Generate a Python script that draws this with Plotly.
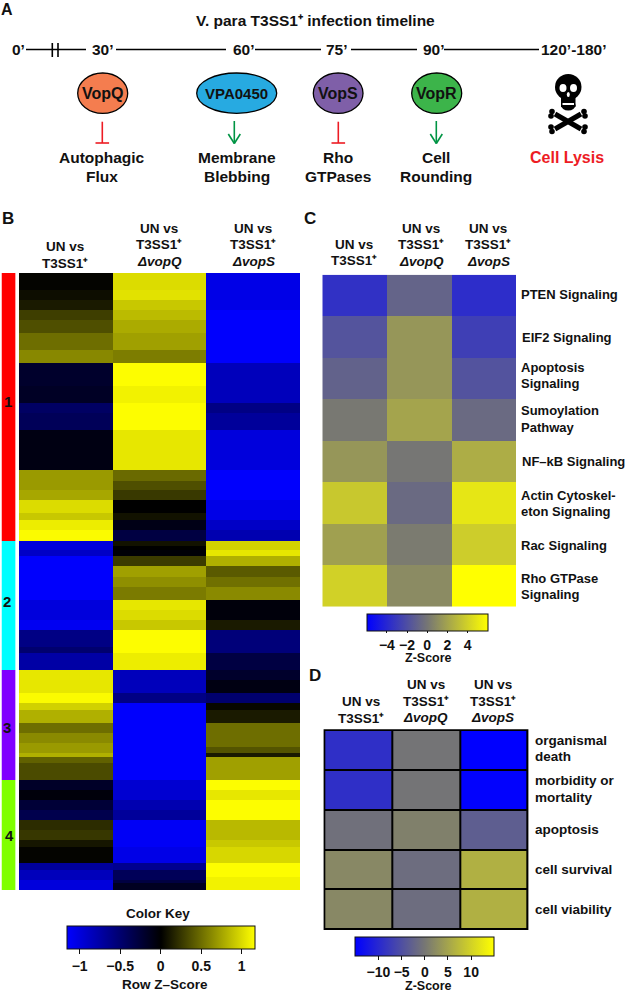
import plotly.graph_objects as go

W, H = 625, 992
FONT = "Liberation Sans"

def X(px): return px / W
def Y(py): return 1 - py / H

# ---------- Panel B data: gene bands (rows per band, row z-score per band) ----------
cluster_names = ["1", "2", "3", "4"]
cluster_rows = [80.5, 38.5, 33, 33]
cluster_colors = ["#ff0000", "#00ffff", "#8000ff", "#80ff00"]

b_col1_rows = [5,3,3,3,4,5,4,7,5,3,5,12,6,3,4,2,3,3.5, 2.5,2,13,6,3,5,2,5, 7,3,2,4,3,3,3,1,2,5, 3,3,3,3,3,3,2,5,2,3,3]
b_col1_vals = [.02,.06,.12,.28,.36,.5,.62,-.2,-.17,-.45,-.4,-.08,.7,.76,1.0,.91,1.08,1.14,
               -1.0,-.9,-1.15,-1.0,-1.1,-.6,-.5,-.75,
               1.05,1.14,.95,.8,.5,.63,.7,.8,.44,.34,
               -.18,-.05,-.25,-.35,.2,.25,.1,.02,-.7,-.85,-1.0]

b_col2_rows = [5,3,3,3,4,5,4,7,5,8,12,3.5,2.5,3,4,2,3,3.5, 1.5,1,2,3,3,3,4,3,3,3,7,5, 7,3,23, 6,3,3,8,5,2,3,1,2]
b_col2_vals = [1.0,1.03,.91,.85,.78,.73,.57,1.15,1.1,1.15,1.05,.48,.36,.26,0,.08,-.1,-.3,
               .08,0,-.03,.27,.73,.65,.56,1.05,1.0,.91,1.15,1.08,
               -.85,-.6,-1.15,
               -.95,-.8,-.7,-1.12,-1.05,-.65,-.4,-.3,-.15]

b_col3_rows = [11,16,12,3,5,12,9,6,3,3.5, 2.5,2,3,3,3,4,6,3,7,5, 3,4,3,2,4,7,2,1,7, 3,3,6,6,2,5,4,4]
b_col3_vals = [-1.05,-1.15,-.85,-.6,-.7,-1.0,-1.15,-1.05,-.9,-.8,
               .95,1.05,.8,.41,.51,.63,-.05,.12,-.55,-.3,
               -.2,-.08,-.5,.03,.12,.5,.38,.12,.73,
               1.15,1.05,1.15,.84,.91,.98,1.15,1.1]

# ---------- Panel C data ----------
c_rows = ["PTEN Signaling", "EIF2 Signaling", "Apoptosis<br>Signaling", "Sumoylation<br>Pathway",
          "NF\u2013kB Signaling", "Actin Cytoskel-<br>eton Signaling", "Rac Signaling", "Rho GTPase<br>Signaling"]
c_un = [-3.5, -1.75, -1.0, 0.1, 1.4, 3.6, 1.85, 4.0]
c_q = [-0.9, 1.4, 1.4, 2.0, 0.0, -0.6, 0.2, 0.9]
c_s = [-3.7, -2.8, -1.8, -0.6, 2.4, 4.9, 3.8, 6.0]

# ---------- Panel D data ----------
d_rows = ["organismal<br>death", "morbidity or<br>mortality", "apoptosis", "cell survival", "cell viability"]
d_un = [-9, -9, -0.8, 2.0, 2.0]
d_q = [-0.2, -0.2, 1.1, -1.2, -1.2]
d_s = [-15, -14.8, -3, 6.3, 6.3]

# ---------- Panel A data ----------
time_labels = ["0\u2019", "30\u2019", "60\u2019", "75\u2019", "90\u2019", "120\u2019-180\u2019"]
effectors = ["VopQ", "VPA0450", "VopS", "VopR"]
effector_colors = ["#f47d4f", "#27aae1", "#7f5fa8", "#3cb44a"]
outcomes = ["Autophagic<br>Flux", "Membrane<br>Blebbing", "Rho<br>GTPases", "Cell<br>Rounding"]

BKY = [[0, "#0000ff"], [0.5, "#000000"], [1, "#ffff00"]]
BGY = [[0, "#0000ff"], [0.5, "#767674"], [1, "#ffff00"]]
TICKFONT = dict(family=FONT, size=14, color="#111111", weight=700)

fig = go.Figure()
axis_n = [0]
layout_axes = {}

def new_axes(x0, x1, y0, y1, xrange, yrange):
    axis_n[0] += 1
    n = axis_n[0]
    s = "" if n == 1 else str(n)
    common = dict(showgrid=False, zeroline=False, showticklabels=False, ticks="", showline=False, fixedrange=True)
    layout_axes["xaxis" + s] = dict(domain=[X(x0), X(x1)], range=xrange, anchor="y" + s, **common)
    layout_axes["yaxis" + s] = dict(domain=[Y(y1), Y(y0)], range=yrange, anchor="x" + s, **common)
    return "x" + s, "y" + s

def edges(counts):
    out, t = [0], 0
    for c in counts:
        t += c
        out.append(t)
    return out

# Panel B heatmap
B_TOTAL = sum(cluster_rows)
B_CELLS = [(19, 113, b_col1_rows, b_col1_vals), (113, 206, b_col2_rows, b_col2_vals), (206, 300, b_col3_rows, b_col3_vals)]
for x0, x1, counts, vals in B_CELLS:
    xa, ya = new_axes(x0, x1, 273, 890, [0, 1], [B_TOTAL, 0])
    fig.add_trace(go.Heatmap(x=[0, 1], y=edges(counts), z=[[v] for v in vals], coloraxis="coloraxis",
                             xaxis=xa, yaxis=ya, hoverinfo="z"))

# Cluster side bar
xa, ya = new_axes(1.5, 15.7, 273, 890, [0, 1], [B_TOTAL, 0])
fig.add_trace(go.Heatmap(x=[0, 1], y=edges(cluster_rows), z=[[i] for i in range(4)], showscale=False, zmin=0, zmax=3,
                         colorscale=[[i / 3, c] for i, c in enumerate(cluster_colors)],
                         text=[[n] for n in cluster_names], hoverinfo="text", xaxis=xa, yaxis=ya))

# Panel C heatmap
xa, ya = new_axes(322.3, 516, 274.7, 606.7, [-0.5, 2.5], [7.5, -0.5])
fig.add_trace(go.Heatmap(z=[list(r) for r in zip(c_un, c_q, c_s)], coloraxis="coloraxis2", xaxis=xa, yaxis=ya))

# Panel D heatmap
xa, ya = new_axes(324.3, 527.7, 730, 929.3, [-0.5, 2.5], [4.5, -0.5])
fig.add_trace(go.Heatmap(z=[list(r) for r in zip(d_un, d_q, d_s)], coloraxis="coloraxis3", xgap=2, ygap=2,
                         xaxis=xa, yaxis=ya))

shapes = []
def seg(x0, y0, x1, y1, color="#000000", w=1.6):
    shapes.append(dict(type="line", xref="paper", yref="paper", x0=X(x0), y0=Y(y0), x1=X(x1), y1=Y(y1),
                       line=dict(color=color, width=w)))
def ell(x0, y0, x1, y1, fill, line="#000000", w=1.3):
    shapes.append(dict(type="circle", xref="paper", yref="paper", x0=X(x0), y0=Y(y0), x1=X(x1), y1=Y(y1),
                       fillcolor=fill, line=dict(color=line, width=w)))
def box(x0, y0, x1, y1, fill, w=0, line=None, layer="above"):
    shapes.append(dict(type="rect", xref="paper", yref="paper", x0=X(x0), y0=Y(y0), x1=X(x1), y1=Y(y1), layer=layer,
                       fillcolor=fill, line=dict(color=line or fill, width=w)))

# black frame behind panel D, visible through the cell gaps
box(323.6, 729.3, 528.4, 930, "#000000", layer="below")

# timeline
for a, b in [(26, 86), (116, 226), (255, 321), (351, 417), (444, 539)]:
    seg(a, 49.5, b, 49.5)
seg(52.3, 43, 52.3, 57)
seg(58, 43, 58, 57)

# effector ovals
OVALS = [(77.7, 127.7), (196.7, 276.7), (313.3, 363), (411.7, 461.7)]
for (a, b), c in zip(OVALS, effector_colors):
    ell(a, 73, b, 113.3, c)

# inhibition marks and arrows
RED, GREEN = "#ed1c24", "#009444"
for xc in (102.3, 338.3):
    seg(xc, 121.7, xc, 143, RED, 1.6)
    seg(xc - 6.8, 143, xc + 6.8, 143, RED, 1.6)
for xc in (234.3, 436.3):
    seg(xc, 121, xc, 143.5, GREEN, 1.6)
    seg(xc - 6, 134, xc, 143.5, GREEN, 1.6)
    seg(xc + 6, 134, xc, 143.5, GREEN, 1.6)

# skull and crossbones
seg(555, 114, 581, 129, "#000000", 5)
seg(581, 114, 555, 129, "#000000", 5)
for bx, by in [(552, 111.5), (551, 116), (584, 111.5), (585, 116), (552, 131.5), (551, 127), (584, 131.5), (585, 127)]:
    ell(bx - 2.8, by - 2.8, bx + 2.8, by + 2.8, "#000000", w=0)
ell(555, 74, 581.5, 100, "#000000", w=0)
box(561, 95, 575.5, 107, "#000000")
ell(561, 100, 575.5, 110.5, "#000000", w=0)
ell(559.5, 84, 566.5, 92, "#ffffff", w=0)
ell(570, 84, 577, 92, "#ffffff", w=0)
ell(566.8, 92, 569.8, 97, "#ffffff", w=0)
box(562.5, 103, 574, 105, "#ffffff")

anns = []
def txt(x, y, s, size=13.5, color="#111111", anchor="center", pitch=16.6, style="normal"):
    lines = s.split("<br>")
    y0 = y - pitch * (len(lines) - 1) / 2
    for i, line in enumerate(lines):
        is_it = line.startswith("\u0394")
        anns.append(dict(x=X(x), y=Y(y0 + i * pitch), xref="paper", yref="paper", text=line, showarrow=False,
                         xanchor=anchor, yanchor="middle", borderpad=0,
                         font=dict(family=FONT, size=size, color=color, weight=700,
                                   style="italic" if is_it else style)))

# panel letters
txt(7, 9.5, "A", 16); txt(8, 219, "B", 17); txt(310, 219, "C", 17); txt(315, 675, "D", 17)

# Panel A text
PA = 15.5
txt(315, 21, "V. para T3SS1\u207a infection timeline", PA)
for xc, s in zip((18.7, 103, 244, 337, 434, 574), time_labels):
    txt(xc, 49, s, PA)
for xc, s, sz in zip((102.7, 236.7, 338.2, 436.7), effectors, (16, 15, 16, 16)):
    txt(xc, 94, s, sz)
for xc, s in zip((102.3, 237, 338, 436), outcomes):
    txt(xc, 167, s, PA, pitch=19.5)
txt(566.7, 157.5, "Cell Lysis", 16, RED)

# column headers
HD1 = "UN vs<br>T3SS1\u207a"
def hd2(name): return "UN vs<br>T3SS1\u207a<br>\u0394" + name
txt(65, 255, HD1); txt(159, 245, hd2("vopQ")); txt(253, 245, hd2("vopS"))
txt(354.3, 252.5, HD1); txt(421, 245, hd2("vopQ")); txt(488, 245, hd2("vopS"))
txt(361, 710, HD1); txt(425.7, 701, hd2("vopQ")); txt(493, 701, hd2("vopS"))

# cluster numbers
for (xc, yc), s in zip([(8, 401), (7, 601), (7, 727), (9, 835)], cluster_names):
    txt(xc, yc, s, 15)

# C row labels
C_POS = [(520, 294), (521, 337), (520, 375.5), (520, 419), (521, 461), (520, 503.5), (520, 545.7), (520, 586.5)]
for (xc, yc), s in zip(C_POS, c_rows):
    txt(xc, yc, s, 13, anchor="left")
# D row labels
D_POS = [748.5, 789, 829, 869, 909]
for yc, s in zip(D_POS, d_rows):
    txt(534.3, yc, s, 13.5, anchor="left", pitch=16.6)

# colour key captions
txt(158, 913, "Color Key", 13.5)
txt(165, 984.7, "Row Z\u2013Score", 13.5)
txt(428, 657.5, "Z-Score", 12.5)
txt(428, 985.5, "Z-Score", 12.5)

def cbar(x0, x1, y0, y1, vals, labels, tl=5):
    return dict(orientation="h", lenmode="pixels", len=x1 - x0, thicknessmode="pixels", thickness=y1 - y0,
                x=X(x0), xanchor="left", y=Y(y0), yanchor="top", xpad=0, ypad=0,
                outlinecolor="#111111", outlinewidth=1, ticks="outside", ticklen=tl, tickwidth=1.3, tickcolor="#111111",
                tickmode="array", tickvals=vals, ticktext=labels, tickfont=TICKFONT)

fig.update_layout(
    width=W, height=H, margin=dict(l=0, r=0, t=0, b=0, autoexpand=False),
    paper_bgcolor="#ffffff", plot_bgcolor="rgba(0,0,0,0)", showlegend=False,
    shapes=shapes, annotations=anns,
    coloraxis=dict(colorscale=BKY, cmin=-1.16, cmax=1.16,
                   colorbar=cbar(66.7, 254.3, 925.7, 948.3, [-1, -0.5, 0, 0.5, 1], ["\u22121", "\u22120.5", "0", "0.5", "1"])),
    coloraxis2=dict(colorscale=BGY, cmin=-6, cmax=6,
                    colorbar=cbar(366.7, 488, 614.3, 631.7, [-4, -2, 0, 2, 4], ["\u22124", "\u22122", "0", "2", "4"], tl=2)),
    coloraxis3=dict(colorscale=BGY, cmin=-15, cmax=15,
                    colorbar=cbar(355.3, 494, 937.3, 956, [-10, -5, 0, 5, 10], ["\u221210", "\u22125", "0", "5", "10"], tl=4)),
    **layout_axes,
)

fig.write_html("out.html", post_script="document.body.style.margin='0';", config={"displayModeBar": False})
